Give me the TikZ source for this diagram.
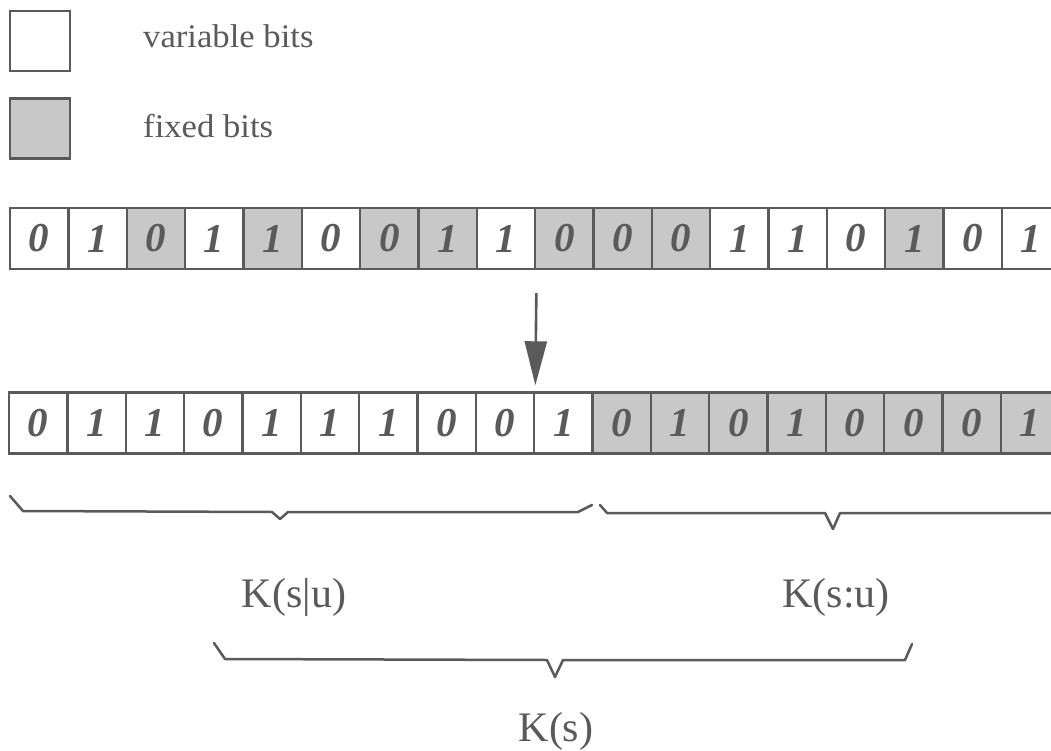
\documentclass[tikz,border=0pt]{standalone}
\usepackage{fontspec}
\setmainfont{Liberation Serif}
\usetikzlibrary{arrows.meta,calc}

\definecolor{ink}{RGB}{90,90,90}
\definecolor{shade}{RGB}{200,200,200}

\tikzset{
  cell/.style={draw=ink, line width=2.4pt, minimum width=58.35pt, minimum height=61pt,
               inner sep=0pt, text=ink, font=\fontsize{41}{41}\selectfont\bfseries\itshape},
  vb/.style={fill=white},
  fb/.style={fill=shade},
  legendbox/.style={draw=ink, line width=2.6pt, minimum size=60pt, inner sep=0pt},
  legendtext/.style={anchor=base west, text=ink, inner sep=0pt, xscale=1.05,
                     font=\fontsize{33}{33}\selectfont},
  klabel/.style={anchor=base, text=ink, inner sep=0pt,
                 font=\fontsize{42}{42}\selectfont},
  bracket/.style={draw=ink, line width=2.5pt, line join=round, line cap=round},
  pointer/.style={draw=ink, line width=2.6pt,
                  -{Triangle[width=22pt,length=44pt]}}
}

\begin{document}
\begin{tikzpicture}[x=1pt,y=-1pt]
\useasboundingbox (0,0) rectangle (1051,751);
\clip (0,0) rectangle (1051,751);

% legend
\node[legendbox, vb] (lv) at (40,41) {};
\node[legendbox, fb] (lf) at (40,128.5) {};
\node[legendtext] (tv) at (143,48) {variable bits};
\node[legendtext] (tf) at (143,138) {fixed bits};

% original string
\foreach \d/\s [count=\i] in {0/vb,1/vb,0/fb,1/vb,1/fb,0/vb,0/fb,1/fb,1/vb,
                               0/fb,0/fb,0/fb,1/vb,1/vb,0/vb,1/fb,0/vb,1/vb}
  \node[cell, \s] (t\i) at ({10+(\i-0.5)*58.35},238.5) {\raisebox{-2pt}{\d}};

% rearranged string
\foreach \d/\s [count=\i] in {0/vb,1/vb,1/vb,0/vb,1/vb,1/vb,1/vb,0/vb,0/vb,
                               1/vb,0/fb,1/fb,0/fb,1/fb,0/fb,0/fb,0/fb,1/fb}
  \node[cell, \s] (b\i) at ({9+(\i-0.5)*58.35},423) {\raisebox{-1pt}{\d}};

% mapping arrow
\coordinate (from) at ($(t9.south east)+(0,23)$);
\coordinate (to) at ($(b9.north east)+(0,-6)$);
\draw[pointer] (from) -- (to);

% braces under the rearranged string
\draw[bracket] (10,496) -- (23,511) -- (272,512) -- (280,519) -- (288,512)
               -- (578,512) -- (592,505);
\draw[bracket] (600,505) -- (607,513) -- (825,513) -- (833,529) -- (840,513)
               -- (1060,513);
\draw[bracket] (214,643) -- (225,659) -- (547,660) -- (555,677) -- (563,660)
               -- (905,660) -- (912,644);

% labels
\node[klabel] (kc) at (294,607) {K(s|u)};
\node[klabel] (km) at (836,607) {K(s:u)};
\node[klabel] (ks) at (556,741) {K(s)};
\end{tikzpicture}
\end{document}
